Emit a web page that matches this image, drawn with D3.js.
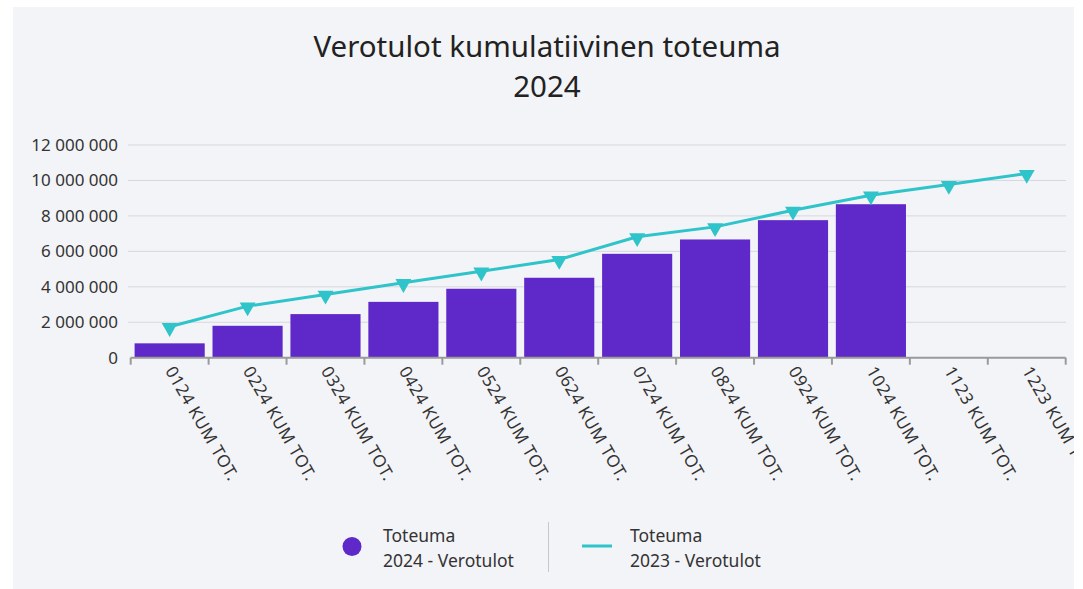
<!DOCTYPE html>
<html lang="fi">
<head>
<meta charset="utf-8">
<title>Verotulot kumulatiivinen toteuma</title>
<script src="https://cdn.jsdelivr.net/npm/d3@7"></script>
<style>
  html, body { margin: 0; padding: 0; background: #ffffff; }
  svg { display: block; font-family: "Noto Sans", "Open Sans", sans-serif; }
</style>
</head>
<body>
<script>
  // kuukaudet (x-akseli)
  var categories = ["0124 KUM TOT.", "0224 KUM TOT.", "0324 KUM TOT.", "0424 KUM TOT.",
    "0524 KUM TOT.", "0624 KUM TOT.", "0724 KUM TOT.", "0824 KUM TOT.",
    "0924 KUM TOT.", "1024 KUM TOT.", "1123 KUM TOT.", "1223 KUM TOT."];
  // Toteuma 2024 - Verotulot (pylväät), null = ei vielä toteumaa
  var toteuma2024 = [810000, 1800000, 2460000, 3150000, 3890000, 4510000,
    5860000, 6670000, 7760000, 8660000, null, null];
  // Toteuma 2023 - Verotulot (viiva)
  var toteuma2023 = [1750000, 2910000, 3570000, 4230000, 4880000, 5540000,
    6820000, 7380000, 8320000, 9170000, 9770000, 10390000];
  var yTicks = [0, 2000000, 4000000, 6000000, 8000000, 10000000, 12000000];
  var legendLabels = [["Toteuma", "2024 - Verotulot"], ["Toteuma", "2023 - Verotulot"]];

  var width = 1083, height = 589;
  var barColor = "#5f28c8", lineColor = "#2ec4ca";

  var svg = d3.select("body").append("svg")
    .attr("width", width)
    .attr("height", height);

  // taustapaneeli + leikkaus sen reunaan
  svg.append("defs").append("clipPath").attr("id", "panel")
    .append("rect").attr("x", 13).attr("y", 7).attr("width", 1061).attr("height", height);
  svg.append("rect")
    .attr("x", 13).attr("y", 7)
    .attr("width", 1061).attr("height", height)
    .attr("fill", "#f3f4f8");

  // otsikko
  var title = svg.append("text")
    .attr("text-anchor", "middle")
    .attr("font-size", 29.5)
    .attr("fill", "#222");
  title.append("tspan").attr("x", 547).attr("y", 57).text("Verotulot kumulatiivinen toteuma");
  title.append("tspan").attr("x", 547).attr("y", 97).text("2024");

  var xScale = d3.scaleBand()
    .domain(categories)
    .range([130.7, 1065.7])
    .paddingInner(0.1)
    .paddingOuter(0.05);

  var yScale = d3.scaleLinear()
    .domain([0, 12000000])
    .range([357.7, 145]);

  // ruudukko
  svg.append("g")
    .selectAll("line")
    .data(yTicks.slice(1))
    .enter()
    .append("line")
    .attr("x1", 128).attr("x2", 1066)
    .attr("y1", function (d) { return yScale(d); })
    .attr("y2", function (d) { return yScale(d); })
    .attr("stroke", "#d6d7dd")
    .attr("stroke-width", 1);

  // y-akselin tekstit
  var fmt = function (d) { return d3.format(",")(d).replace(/,/g, " "); };
  var yAxis = d3.axisLeft(yScale).tickValues(yTicks).tickFormat(fmt).tickSize(0).tickPadding(0);
  var yG = svg.append("g")
    .attr("transform", "translate(118,0)")
    .call(yAxis);
  yG.select(".domain").remove();
  yG.selectAll("text")
    .attr("font-size", 17)
    .attr("font-family", "\"Noto Sans\", sans-serif")
    .attr("fill", "#333");

  // pylväät
  svg.append("g")
    .selectAll("rect")
    .data(categories.map(function (c, i) { return { c: c, v: toteuma2024[i] }; })
      .filter(function (d) { return d.v != null; }))
    .enter()
    .append("rect")
    .attr("x", function (d) { return xScale(d.c); })
    .attr("y", function (d) { return yScale(d.v); })
    .attr("width", xScale.bandwidth())
    .attr("height", function (d) { return yScale(0) - yScale(d.v); })
    .attr("fill", barColor);

  // x-akseli
  var xPos = d3.scaleLinear().domain([0, categories.length]).range([130.7, 1065.7]);
  var xAxis = d3.axisBottom(xScale).tickSize(0).tickFormat("");
  var xG = svg.append("g")
    .attr("transform", "translate(0," + yScale(0) + ")")
    .call(xAxis);
  xG.select(".domain").attr("stroke", "#9a9a9a").attr("stroke-width", 2)
    .attr("d", "M" + xPos(0) + ",0H" + xPos(categories.length));
  xG.selectAll(".tick").remove();
  xG.selectAll("line.sep")
    .data(d3.range(categories.length + 1))
    .enter()
    .append("line")
    .attr("class", "sep")
    .attr("x1", function (d) { return xPos(d); })
    .attr("x2", function (d) { return xPos(d); })
    .attr("y1", 0).attr("y2", 7)
    .attr("stroke", "#9a9a9a")
    .attr("stroke-width", 2);
  var lblG = svg.append("g")
    .attr("clip-path", "url(#panel)")
    .append("g")
    .attr("transform", "translate(0," + yScale(0) + ")");
  lblG.selectAll("text.lbl")
    .data(categories)
    .enter()
    .append("text")
    .attr("class", "lbl")
    .attr("transform", function (d) {
      return "translate(" + (xScale(d) + xScale.bandwidth() / 2 - 5) + ",13) rotate(60)";
    })
    .attr("text-anchor", "start")
    .attr("font-size", 17)
    .attr("letter-spacing", 0.6)
    .attr("fill", "#333")
    .text(function (d) { return d; });

  // viiva
  var cx = function (d, i) { return xScale(categories[i]) + xScale.bandwidth() / 2; };
  var line = d3.line()
    .x(function (d, i) { return cx(d, i); })
    .y(function (d) { return yScale(d); });
  svg.append("path")
    .datum(toteuma2023)
    .attr("d", line)
    .attr("fill", "none")
    .attr("stroke", lineColor)
    .attr("stroke-width", 3);

  // kolmiomerkit
  var tri = d3.symbol().type(d3.symbolTriangle).size(110);
  svg.append("g")
    .selectAll("path")
    .data(toteuma2023)
    .enter()
    .append("path")
    .attr("d", tri)
    .attr("transform", function (d, i) {
      return "translate(" + cx(d, i) + "," + (yScale(d) + 1) + ") rotate(180)";
    })
    .attr("fill", lineColor);

  // selite
  var legend = svg.append("g").attr("font-size", 17.5).attr("fill", "#333");
  legend.append("circle")
    .attr("cx", 352).attr("cy", 546.5).attr("r", 9.5)
    .attr("fill", barColor);
  legend.append("line")
    .attr("x1", 548.5).attr("x2", 548.5).attr("y1", 522).attr("y2", 572)
    .attr("stroke", "#c8c8cc").attr("stroke-width", 1);
  legend.append("line")
    .attr("x1", 582).attr("x2", 612).attr("y1", 546).attr("y2", 546)
    .attr("stroke", lineColor).attr("stroke-width", 3);
  [383, 630].forEach(function (x, k) {
    var t = legend.append("text");
    t.append("tspan").attr("x", x).attr("y", 542).text(legendLabels[k][0]);
    t.append("tspan").attr("x", x).attr("y", 567).text(legendLabels[k][1]);
  });
</script>
</body>
</html>
